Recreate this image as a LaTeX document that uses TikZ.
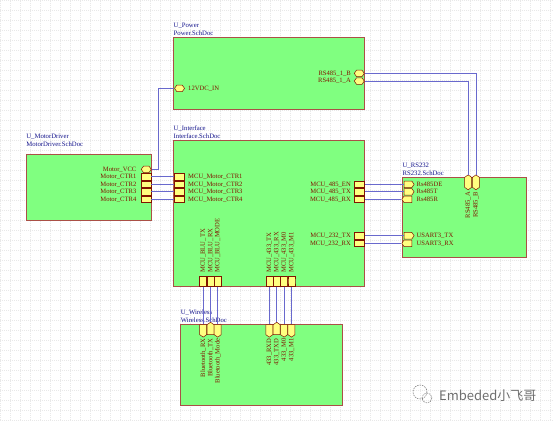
\documentclass[tikz,border=0pt]{standalone}
\usepackage{fontspec}
\setmainfont{Liberation Serif}
\newfontfamily\cjkfont{Noto Sans CJK SC}
\usetikzlibrary{positioning}
\usetikzlibrary{shapes.symbols}
\definecolor{sheetgreen}{RGB}{128,255,128}
\definecolor{sheetred}{RGB}{170,80,70}
\definecolor{portyellow}{RGB}{255,255,128}
\definecolor{portred}{RGB}{128,20,0}
\definecolor{netblue}{RGB}{20,20,140}
\definecolor{wireblue}{RGB}{105,105,205}
\definecolor{gridgray}{RGB}{232,232,232}
\definecolor{markgray}{RGB}{110,110,110}

\tikzset{
  sheet/.style={draw=sheetred, fill=sheetgreen, line width=0.9pt},
  port/.style={shape=signal, signal to=nowhere, draw=portred, fill=portyellow, line width=0.5pt,
    inner sep=0pt, minimum width=10pt, minimum height=6.6pt, signal pointer angle=110},
  vport/.style={port, minimum width=7pt, minimum height=10pt},
  bidir/.style={signal to=east and west},
  vbidir/.style={signal to=north and south},
  pname/.style={text=portred, font=\fontsize{6.6}{6.6}\selectfont, inner sep=0pt},
  dname/.style={text=netblue, font=\fontsize{6.7}{6.7}\selectfont, inner sep=0pt, anchor=west},
  wire/.style={draw=wireblue, line width=0.8pt},
}

\begin{document}
\begin{tikzpicture}[x=1pt, y=-1pt]

%background and grid
\fill[white] (0,0) rectangle (554,420);
\draw[gridgray, very thin, step=10pt, dash pattern=on 1pt off 1pt] (0,0) grid (554,420);

%sheet symbols
\draw[sheet] (173.5,37) rectangle (364.3,109.7);
\draw[sheet] (173.5,140.3) rectangle (364.3,286.3);
\draw[sheet] (26.1,154.7) rectangle (151.2,220.7);
\draw[sheet] (402.5,177) rectangle (526.9,257.3);
\draw[sheet] (180.6,324.3) rectangle (342.4,405);

%designators
\node[dname] (pwr) at (173.5,25.7) {U\_Power};
\node[dname] (pwrf) at (173.5,33) {Power.SchDoc};
\node[dname] (itf) at (173.5,129) {U\_Interface};
\node[dname] (itff) at (173.5,136.3) {Interface.SchDoc};
\node[dname] (mdrv) at (26.1,136.3) {U\_MotorDriver};
\node[dname] (mdrvf) at (26.1,143.7) {MotorDriver.SchDoc};
\node[dname] (rs) at (402.5,165.3) {U\_RS232};
\node[dname] (rsf) at (402.5,172.7) {RS232.SchDoc};
\node[dname] (wl) at (180.6,313) {U\_Wireless};
\node[dname] (wlf) at (180.6,320.7) {Wireless.SchDoc};

%Power ports
\node[port, bidir] (vin) at (179.5,88.3) {};
\node[pname, anchor=west] (vinl) at (188,88.3) {12VDC\_IN};
\node[port, bidir] (pb) at (359.3,73.3) {};
\node[pname, anchor=east] (pbl) at (351,73.3) {RS485\_1\_B};
\node[port, bidir] (pa) at (359.3,81) {};
\node[pname, anchor=east] (pal) at (351,81) {RS485\_1\_A};

%MotorDriver ports
\node[port, bidir] (mvcc) at (146.2,169.3) {};
\node[pname, anchor=east] (mvccl) at (136.5,169.3) {Motor\_VCC};
\foreach \y [count=\i] in {176.8,184.3,191.8,199.3}
{
\node[port] (mc\i) at (146.2,\y) {};
\node[pname, anchor=east] (mcl\i) at (136.5,\y) {Motor\_CTR\i};
\node[port] (ic\i) at (178.8,\y) {};
\node[pname, anchor=west] (icl\i) at (188,\y) {MCU\_Motor\_CTR\i};
\draw[wire] (mc\i.east) -- (ic\i.west);
}

%Interface right ports to RS232
\foreach \y/\a/\b/\s [count=\i] in {184.3/EN/Rs485DE/east, 191.8/TX/Rs485T/east, 199.3/RX/Rs485R/west}
{
\node[port] (i485\i) at (359.3,\y) {};
\node[pname, anchor=east] (i485l\i) at (351,\y) {MCU\_485\_\a};
\node[port, signal to=\s] (r485\i) at (408,\y) {};
\node[pname, anchor=west] (r485l\i) at (416.5,\y) {\b};
\draw[wire] (i485\i.east) -- (r485\i.west);
}
\foreach \y/\a/\s [count=\i] in {235.7/TX/east, 243.3/RX/west}
{
\node[port] (i232\i) at (359.3,\y) {};
\node[pname, anchor=east] (i232l\i) at (351,\y) {MCU\_232\_\a};
\node[port, signal to=\s] (u232\i) at (408,\y) {};
\node[pname, anchor=west] (u232l\i) at (416.5,\y) {USART3\_\a};
\draw[wire] (i232\i.east) -- (u232\i.west);
}

%RS232 top ports
\node[vport, vbidir] (ra) at (468.2,182.3) {};
\node[pname, rotate=90, anchor=east] (ral) at (468.2,192) {RS485\_A};
\node[vport, vbidir] (rb) at (476,182.3) {};
\node[pname, rotate=90, anchor=east] (rbl) at (476,192) {RS485\_B};

%Interface bottom ports to Wireless
\foreach \x/\a/\b/\s [count=\i] in {203.2/BLU\_TX/Bluetooth\_RX/south, 210.5/BLU\_RX/Bluetooth\_TX/north,
  217.7/BLU\_MODE/Bluetooth\_Mode/south, 269.3/433\_TX/433\_RXD/south, 276.7/433\_RX/433\_TXD/north,
  284.1/433\_M0/433\_M0/south, 291.5/433\_M1/433\_M1/south}
{
\node[vport] (ib\i) at (\x,281.3) {};
\node[pname, rotate=90, anchor=west] (ibl\i) at (\x,273) {MCU\_\a};
\node[vport, signal to=\s] (wb\i) at (\x,329.7) {};
\node[pname, rotate=90, anchor=east] (wbl\i) at (\x,338.5) {\b};
\draw[wire] (ib\i.south) -- (wb\i.north);
}

%power wiring
\draw[wire] (vin.west) -- ++(-15.8,0) |- (mvcc.east);
\draw[wire] (pb.east) -| (rb.north);
\draw[wire] (pa.east) -| (ra.north);

%watermark
\draw[markgray, line width=0.5pt, dash pattern=on 1.5pt off 1pt] (420,392) circle (7);
\draw[markgray, line width=0.5pt, dash pattern=on 1.5pt off 1pt] (427,398) circle (5);
\node[text=markgray, font=\cjkfont\fontsize{13}{13}\selectfont, anchor=west, inner sep=0pt] (mark) at (439,395.7) {Embeded小飞哥};

\end{tikzpicture}
\end{document}
